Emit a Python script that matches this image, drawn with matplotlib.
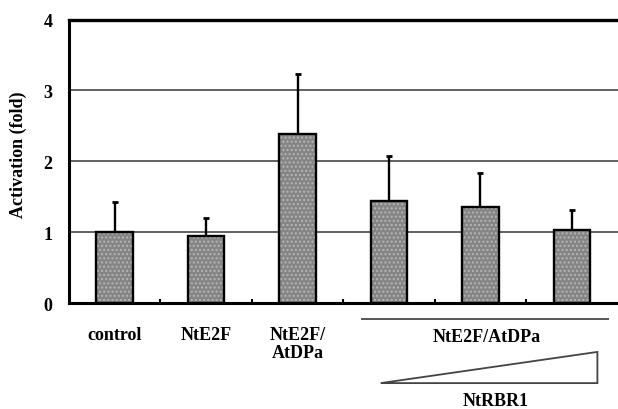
import matplotlib
matplotlib.use("Agg")
import matplotlib.pyplot as plt
from matplotlib.patches import Polygon
import numpy as np

categories = ["control", "NtE2F", "NtE2F/\nAtDPa", "", "", ""]
values = [1.00, 0.94, 2.39, 1.44, 1.36, 1.03]
errors = [0.43, 0.26, 0.84, 0.63, 0.47, 0.28]
yticks = [0, 1, 2, 3, 4]
group_label = "NtE2F/AtDPa"
gradient_label = "NtRBR1"

plt.rcParams['font.family'] = ['Liberation Serif', 'DejaVu Serif']
plt.rcParams['font.weight'] = 'bold'
FS = 13

fig = plt.figure(figsize=(6.18, 4.10), dpi=100)
ax = fig.add_axes([0.1117, 0.2585, 0.8875, 0.6915])

x = np.arange(len(values)) + 0.5
# textured fill
ax.bar(x, values, width=0.40, color='#858585', edgecolor='#b5b5b5',
       hatch='....', linewidth=0, zorder=3)
# outline
ax.bar(x, values, width=0.40, fill=False, edgecolor='black',
       linewidth=1.7, zorder=4)
ax.errorbar(x, values, yerr=[np.zeros(len(errors)), errors], fmt='none',
            ecolor='black', elinewidth=1.7, capsize=2, capthick=2, zorder=2)

ax.set_xlim(0, len(values))
ax.set_ylim(0, 4)
ax.set_yticks(yticks)
ax.set_yticklabels([str(t) for t in yticks], fontsize=FS, fontweight='bold')
ax.tick_params(axis='y', length=0, pad=12)
ax.set_xticks(np.arange(1, len(values)))
ax.set_xticklabels([])
ax.tick_params(axis='x', direction='in', length=3, width=1.5)

for g in [1, 2, 3]:
    ax.axhline(g, color='#555555', linewidth=1.3, zorder=1)
ax.axhline(4, color='black', linewidth=2.4, zorder=1, clip_on=False)

for s in ['left', 'bottom']:
    ax.spines[s].set_linewidth(2.2)
ax.spines['right'].set_visible(False)
ax.spines['top'].set_visible(False)

ax.set_ylabel("Activation (fold)", fontsize=FS, fontweight='bold')
ax.yaxis.set_label_coords(-0.077, 0.525)

# category labels
for xi, lab in zip(x, categories):
    if lab:
        ax.text(xi, -0.32, lab, ha='center', va='top', fontsize=FS,
                fontweight='bold', linespacing=1.1)

# group line and label
ax.plot([3.21, 5.9], [-0.23, -0.23], color='#555555', linewidth=1.4,
        clip_on=False)
ax.text(4.57, -0.35, group_label, ha='center', va='top', fontsize=FS,
        fontweight='bold')

# triangle
tri = Polygon([[3.41, -1.13], [5.78, -0.69], [5.78, -1.13]], closed=True,
              fill=False, edgecolor='#444444', linewidth=1.3, clip_on=False)
ax.add_patch(tri)
ax.text(4.67, -1.26, gradient_label, ha='center', va='top', fontsize=FS,
        fontweight='bold')

fig.savefig("out.png", dpi=100)
